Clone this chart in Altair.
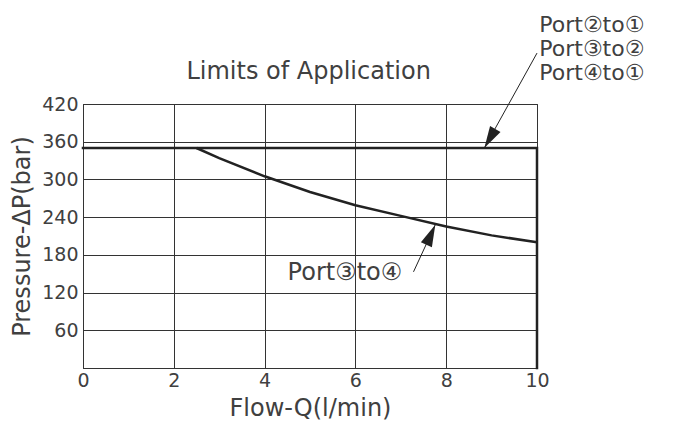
import altair as alt
import pandas as pd

# Data
flow_34 = [2.5, 3, 4, 5, 6, 7, 8, 9, 10]
pres_34 = [350, 334, 305, 280, 259, 242, 225, 211, 200]

limit_flow = [0, 10, 10]
limit_pres = [350, 350, 0]
limit_order = [0, 1, 2]

x_ticks = [0, 2, 4, 6, 8, 10]
y_ticks = [60, 120, 180, 240, 300, 360, 420]

# annotations (data units)
title_text = ["Limits of Application"]
title_x = [4.97]
title_y = [471]
labels_top = ["Port②to①", "Port③to②", "Port④to①"]
labels_top_x = [10.05, 10.05, 10.05]
labels_top_y = [546, 508, 469]
label_34 = ["Port③to④"]
label_34_x = [5.77]
label_34_y = [151]

arrow_x = [10.0, 7.28]
arrow_y = [501, 153]
arrow_x2 = [8.84, 7.76]
arrow_y2 = [350, 228]
arrow_angle = [210, 24]

FONT = "DejaVu Sans"
INK = "#222222"
TXT = "#404040"

xs = alt.Scale(domain=[0, 10], nice=False)
ys = alt.Scale(domain=[0, 420], nice=False)

df34 = pd.DataFrame({"q": flow_34, "p": pres_34})
dflim = pd.DataFrame({"q": limit_flow, "p": limit_pres, "o": limit_order})

xaxis = alt.Axis(values=x_ticks, grid=True, ticks=False, title="Flow-Q(l/min)",
                 labelFontSize=19, titleFontSize=24, labelPadding=3, titlePadding=6,
                 labelFlush=False)
yaxis = alt.Axis(values=y_ticks, grid=True, ticks=False, title="Pressure-ΔP(bar)",
                 labelFontSize=19, titleFontSize=24, labelPadding=5, titlePadding=7)

curve = alt.Chart(df34).mark_line(color=INK, strokeWidth=2.5).encode(
    x=alt.X("q:Q", scale=xs, axis=xaxis),
    y=alt.Y("p:Q", scale=ys, axis=yaxis),
)

limit = alt.Chart(dflim).mark_line(color=INK, strokeWidth=2.5, strokeCap="square").encode(
    x=alt.X("q:Q", scale=xs),
    y=alt.Y("p:Q", scale=ys),
    order="o:Q",
)

dfarr = pd.DataFrame({"x": arrow_x, "y": arrow_y, "x2": arrow_x2, "y2": arrow_y2, "a": arrow_angle})
arrows = alt.Chart(dfarr).mark_rule(color=INK, strokeWidth=1).encode(
    x=alt.X("x:Q", scale=xs), y=alt.Y("y:Q", scale=ys),
    x2="x2:Q", y2="y2:Q",
)
heads = alt.Chart(dfarr).mark_point(
    shape="M0,0L-0.55,2L0.55,2Z", filled=True, color=INK, opacity=1, size=480, strokeWidth=0
).encode(
    x=alt.X("x2:Q", scale=xs), y=alt.Y("y2:Q", scale=ys),
    angle=alt.Angle("a:Q", scale=None),
)

dftitle = pd.DataFrame({"t": title_text, "x": title_x, "y": title_y})
titletext = alt.Chart(dftitle).mark_text(align="center", baseline="middle", fontSize=24,
                                          font=FONT, color=TXT).encode(
    x=alt.X("x:Q", scale=xs), y=alt.Y("y:Q", scale=ys), text="t:N")

dftop = pd.DataFrame({"t": labels_top, "x": labels_top_x, "y": labels_top_y})
toptext = alt.Chart(dftop).mark_text(align="left", baseline="middle", fontSize=22,
                                       font=FONT, color=TXT).encode(
    x=alt.X("x:Q", scale=xs), y=alt.Y("y:Q", scale=ys), text="t:N")

df34t = pd.DataFrame({"t": label_34, "x": label_34_x, "y": label_34_y})
text34 = alt.Chart(df34t).mark_text(align="center", baseline="middle", fontSize=24,
                                      font=FONT, color=TXT).encode(
    x=alt.X("x:Q", scale=xs), y=alt.Y("y:Q", scale=ys), text="t:N")

chart = alt.layer(curve, limit, arrows, heads, titletext, toptext, text34).properties(
    width=454, height=264,
    background="white",
    autosize=alt.AutoSizeParams(type="none"),
    padding={"left": 75, "top": 96, "right": 128, "bottom": 55},
).configure_axis(
    gridColor="#333333", gridOpacity=1, gridWidth=1,
    domainColor="#333333", domainWidth=1,
    labelFont=FONT, titleFont=FONT, labelColor=TXT, titleColor=TXT,
    titleFontWeight="normal",
).configure_view(stroke="#333333", strokeWidth=1)

chart.save("out.html", embed_options={"renderer": "svg", "actions": False})
